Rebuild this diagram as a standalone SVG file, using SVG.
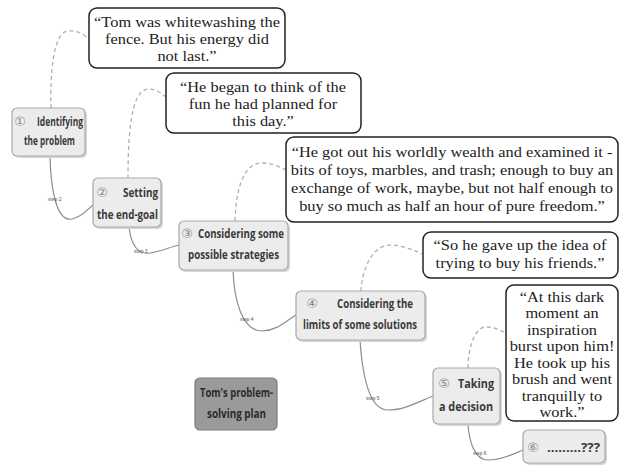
<svg xmlns="http://www.w3.org/2000/svg" width="622" height="466" viewBox="0 0 622 466">
<style>
.q{fill:#fff;stroke:#222;stroke-width:1.5}
.qt{font-family:"Liberation Serif",serif;font-size:14.5px;fill:#222;text-anchor:middle}
.n{fill:#ececec;stroke:#a9a9a9;stroke-width:1.2}
.sh{fill:#d6d6d6}
.nt{font-family:"Open Sans","Liberation Sans",sans-serif;font-weight:bold;font-size:13px;fill:#3a3a3a}
.num{font-family:"DejaVu Sans","Noto Sans CJK SC",sans-serif;font-size:13px;fill:#8a8a8a;text-anchor:middle}
.st{font-family:"Liberation Sans",sans-serif;font-size:5px;fill:#555}
.solid{fill:none;stroke:#8c8c8c;stroke-width:1.2}
.dash{fill:none;stroke:#b0b0b0;stroke-width:1.3;stroke-dasharray:4 3}
</style>
<rect width="622" height="466" fill="#fff"/>
<g id="connectors">
<path class="solid" d="M50,156 C51,195 58,222 72,219 C82,217 88,209 93,205"/>
<path class="solid" d="M129,227 C131,245 138,255 150,253 C162,251 170,247 179,245"/>
<path class="solid" d="M233,270 C234,300 242,331 262,331 C277,331 287,320 296,315"/>
<path class="solid" d="M360,340 C362,370 368,410 388,410 C405,410 420,401 433,396"/>
<path class="solid" d="M468,424 C469,440 474,460 488,460 C503,460 515,453 523,450"/>
<path class="dash" d="M51,108 C50,75 53,32 68,31 C78,30 84,35 89,39"/>
<path class="dash" d="M128,178 C128,140 130,90 148,89 C156,89 161,93 166,97"/>
<path class="dash" d="M235,221 C236,190 243,163 262,163 C272,163 280,167 286,170"/>
<path class="dash" d="M361,291 C362,270 372,244 392,245 C404,246 414,250 422,254"/>
<path class="dash" d="M468,368 C468,350 474,327 486,327 C494,327 500,330 506,333"/>
<text class="st" x="48" y="201">step 2</text>
<text class="st" x="134" y="253">step 3</text>
<text class="st" x="240" y="321">step 4</text>
<text class="st" x="366" y="400">step 5</text>
<text class="st" x="473" y="455">step 6</text>
</g>
<g id="q1">
<rect class="q" x="89" y="8" width="196" height="60" rx="8"/>
<g transform="translate(187,0) scale(1.13,1)">
<text class="qt" x="0" y="27">“Tom was whitewashing the</text>
<text class="qt" x="0" y="44">fence. But his energy did</text>
<text class="qt" x="0" y="61">not last.”</text>
</g>
</g>
<g id="q2">
<rect class="q" x="166" y="73" width="195" height="60" rx="8"/>
<g transform="translate(263,0) scale(1.13,1)">
<text class="qt" x="0" y="92">“He began to think of the</text>
<text class="qt" x="0" y="109">fun he had planned for</text>
<text class="qt" x="0" y="126">this day.”</text>
</g>
</g>
<g id="q3">
<rect class="q" x="286" y="137" width="332" height="85" rx="8"/>
<g transform="translate(452,0) scale(1.13,1)">
<text class="qt" x="0" y="157">“He got out his worldly wealth and examined it -</text>
<text class="qt" x="0" y="175">bits of toys, marbles, and trash; enough to buy an</text>
<text class="qt" x="0" y="193">exchange of work, maybe, but not half enough to</text>
<text class="qt" x="0" y="211">buy so much as half an hour of pure freedom.”</text>
</g>
</g>
<g id="q4">
<rect class="q" x="423" y="232" width="195" height="46" rx="8"/>
<g transform="translate(520,0) scale(1.13,1)">
<text class="qt" x="0" y="250">“So he gave up the idea of</text>
<text class="qt" x="0" y="268">trying to buy his friends.”</text>
</g>
</g>
<g id="q5">
<rect class="q" x="506" y="285" width="112" height="136" rx="8"/>
<g transform="translate(562,0) scale(1.13,1)">
<text class="qt" x="0" y="302">“At this dark</text>
<text class="qt" x="0" y="318.5">moment an</text>
<text class="qt" x="0" y="335">inspiration</text>
<text class="qt" x="0" y="351.5">burst upon him!</text>
<text class="qt" x="0" y="368">He took up his</text>
<text class="qt" x="0" y="384.5">brush and went</text>
<text class="qt" x="0" y="401">tranquilly to</text>
<text class="qt" x="0" y="417.5">work.”</text>
</g>
</g>
<g id="step1">
<rect class="sh" x="14" y="110" width="73" height="48" rx="5"/>
<rect class="n" x="12" y="108" width="73" height="48" rx="5"/>
<text class="num" x="20" y="126">①</text>
<text class="nt" x="37" y="126" textLength="46" lengthAdjust="spacingAndGlyphs">Identifying</text>
<text class="nt" x="24" y="145" textLength="51" lengthAdjust="spacingAndGlyphs">the problem</text>
</g>
<g id="step2">
<rect class="sh" x="95" y="180" width="68" height="49" rx="5"/>
<rect class="n" x="93" y="178" width="68" height="49" rx="5"/>
<text class="num" x="102" y="197">②</text>
<text class="nt" x="123" y="197" textLength="35" lengthAdjust="spacingAndGlyphs">Setting</text>
<text class="nt" x="97" y="219" textLength="61" lengthAdjust="spacingAndGlyphs">the end-goal</text>
</g>
<g id="step3">
<rect class="sh" x="181" y="223" width="109" height="49" rx="5"/>
<rect class="n" x="179" y="221" width="109" height="49" rx="5"/>
<text class="num" x="187" y="238">③</text>
<text class="nt" x="198" y="238" textLength="86" lengthAdjust="spacingAndGlyphs">Considering some</text>
<text class="nt" x="188" y="259" textLength="91" lengthAdjust="spacingAndGlyphs">possible strategies</text>
</g>
<g id="step4">
<rect class="sh" x="298" y="293" width="129" height="49" rx="5"/>
<rect class="n" x="296" y="291" width="129" height="49" rx="5"/>
<text class="num" x="312" y="308">④</text>
<text class="nt" x="337" y="308" textLength="76" lengthAdjust="spacingAndGlyphs">Considering the</text>
<text class="nt" x="303" y="329" textLength="114" lengthAdjust="spacingAndGlyphs">limits of some solutions</text>
</g>
<g id="step5">
<rect class="sh" x="435" y="370" width="67" height="56" rx="5"/>
<rect class="n" x="433" y="368" width="67" height="56" rx="5"/>
<text class="num" x="444" y="388">⑤</text>
<text class="nt" x="458" y="388" textLength="36" lengthAdjust="spacingAndGlyphs">Taking</text>
<text class="nt" x="439" y="411" textLength="54" lengthAdjust="spacingAndGlyphs">a decision</text>
</g>
<g id="step6">
<rect class="sh" x="525" y="432" width="82" height="33" rx="5"/>
<rect class="n" x="523" y="430" width="82" height="33" rx="5"/>
<text class="num" x="533" y="452">⑥</text>
<text class="nt" x="547" y="452" textLength="53" lengthAdjust="spacingAndGlyphs">.........???</text>
</g>
<g id="title">
<rect x="195" y="378" width="82" height="52" rx="5" fill="#9a9a9a" stroke="#7c7c7c" stroke-width="1.2"/>
<text class="nt" x="200" y="397" textLength="73" lengthAdjust="spacingAndGlyphs" style="fill:#2a2a2a">Tom's problem-</text>
<text class="nt" x="207" y="418" textLength="59" lengthAdjust="spacingAndGlyphs" style="fill:#2a2a2a">solving plan</text>
</g>
</svg>
